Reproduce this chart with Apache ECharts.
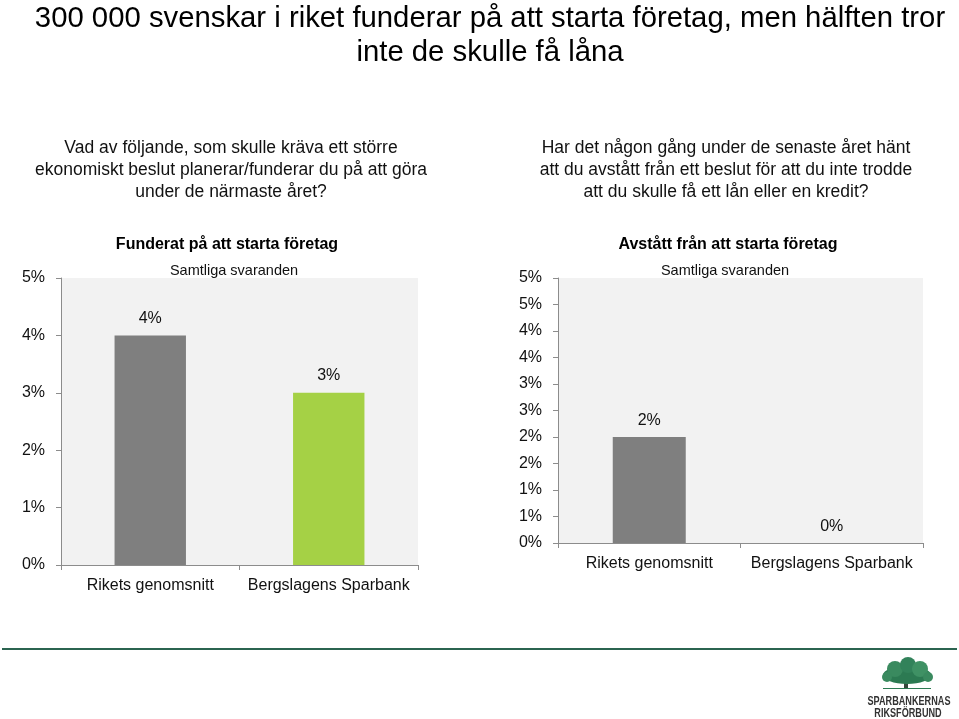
<!DOCTYPE html>
<html>
<head>
<meta charset="utf-8">
<script src="https://cdn.jsdelivr.net/npm/echarts@6/dist/echarts.min.js"></script>
<style>
html,body{margin:0;padding:0;background:#fff;}
#c{width:959px;height:719px;}
</style>
</head>
<body>
<div id="c"></div>
<script>
const categories = ['Rikets genomsnitt', 'Bergslagens Sparbank'];
const funderatValues = [4, 3];
const avstattValues = [2, 0];
const barColors = ['#7f7f7f', '#a5d145'];
const leftAxis = { min: 0, max: 5, interval: 1 };
const rightAxis = { min: 0, max: 5, interval: 0.5 };

const FONT = '"Liberation Sans", Arial, Helvetica, sans-serif';
const chart = echarts.init(document.getElementById('c'));

function pct(v) { return Math.round(v) + '%'; }

const axisLineStyle = { color: '#8c8c8c', width: 1 };
const xLabel = { fontSize: 16, color: '#111', margin: 13, fontFamily: FONT, interval: 0, hideOverlap: false };

chart.setOption({
  backgroundColor: '#ffffff',
  animation: false,
  textStyle: { fontFamily: FONT },
  title: [
    { text: '300 000 svenskar i riket funderar på att starta företag, men hälften tror\ninte de skulle få låna',
      left: 485, top: -3, textAlign: 'center',
      textStyle: { fontFamily: FONT, fontSize: 29.3, fontWeight: 'normal', color: '#000', lineHeight: 34, align: 'center' } },
    { text: 'Vad av följande, som skulle kräva ett större\nekonomiskt beslut planerar/funderar du på att göra\nunder de närmaste året?',
      left: 226, top: 132, textAlign: 'center',
      textStyle: { fontFamily: FONT, fontSize: 17.5, fontWeight: 'normal', color: '#111', lineHeight: 22, align: 'center' } },
    { text: 'Har det någon gång under de senaste året hänt\natt du avstått från ett beslut för att du inte trodde\natt du skulle få ett lån eller en kredit?',
      left: 721, top: 132, textAlign: 'center',
      textStyle: { fontFamily: FONT, fontSize: 17.5, fontWeight: 'normal', color: '#111', lineHeight: 22, align: 'center' } },
    { text: 'Funderat på att starta företag', left: 222, top: 232, textAlign: 'center',
      textStyle: { fontFamily: FONT, fontSize: 16, fontWeight: 'bold', color: '#000' } },
    { text: 'Samtliga svaranden', left: 229, top: 258, textAlign: 'center',
      textStyle: { fontFamily: FONT, fontSize: 14.5, fontWeight: 'normal', color: '#111' } },
    { text: 'Avstått från att starta företag', left: 723, top: 232, textAlign: 'center',
      textStyle: { fontFamily: FONT, fontSize: 16, fontWeight: 'bold', color: '#000' } },
    { text: 'Samtliga svaranden', left: 720, top: 258, textAlign: 'center',
      textStyle: { fontFamily: FONT, fontSize: 14.5, fontWeight: 'normal', color: '#111' } }
  ],
  grid: [
    { left: 61, right: 959 - 418, top: 278, bottom: 719 - 565, show: true, backgroundColor: '#f2f2f2', borderWidth: 0 },
    { left: 558, right: 959 - 923, top: 278, bottom: 719 - 543, show: true, backgroundColor: '#f2f2f2', borderWidth: 0 }
  ],
  xAxis: [
    { type: 'category', gridIndex: 0, data: categories,
      axisLine: { lineStyle: axisLineStyle }, axisTick: { show: true, length: 5, lineStyle: axisLineStyle },
      axisLabel: xLabel },
    { type: 'category', gridIndex: 1, data: categories,
      axisLine: { lineStyle: axisLineStyle }, axisTick: { show: true, length: 5, lineStyle: axisLineStyle },
      axisLabel: xLabel }
  ],
  yAxis: [
    { type: 'value', gridIndex: 0, min: leftAxis.min, max: leftAxis.max, interval: leftAxis.interval,
      axisLine: { show: true, lineStyle: axisLineStyle }, axisTick: { show: true, length: 5, lineStyle: axisLineStyle },
      splitLine: { show: false },
      axisLabel: { fontSize: 16, color: '#111', margin: 16, formatter: pct, fontFamily: FONT } },
    { type: 'value', gridIndex: 1, min: rightAxis.min, max: rightAxis.max, interval: rightAxis.interval,
      axisLine: { show: true, lineStyle: axisLineStyle }, axisTick: { show: true, length: 5, lineStyle: axisLineStyle },
      splitLine: { show: false },
      axisLabel: { fontSize: 16, color: '#111', margin: 16, formatter: pct, fontFamily: FONT } }
  ],
  series: [
    { type: 'bar', xAxisIndex: 0, yAxisIndex: 0, barWidth: '40%',
      data: funderatValues.map((v, i) => ({ value: v, itemStyle: { color: barColors[i] } })),
      label: { show: true, position: 'top', distance: 9, fontSize: 16, color: '#111', fontFamily: FONT,
        formatter: p => pct(p.value) } },
    { type: 'bar', xAxisIndex: 1, yAxisIndex: 1, barWidth: '40%',
      data: avstattValues.map((v, i) => ({ value: v, itemStyle: { color: barColors[0] } })),
      label: { show: true, position: 'top', distance: 8, fontSize: 16, color: '#111', fontFamily: FONT,
        formatter: p => pct(p.value) } }
  ],
  graphic: [
    { type: 'line', shape: { x1: 2, y1: 649, x2: 957, y2: 649 }, style: { stroke: '#2b6450', lineWidth: 2 } },
    { type: 'group', children: [
      { type: 'rect', shape: { x: 904, y: 676, width: 4, height: 12 }, style: { fill: '#34483b' } },
      { type: 'ellipse', shape: { cx: 907, cy: 675, rx: 24, ry: 9 }, style: { fill: '#2c7a52' } },
      { type: 'circle', shape: { cx: 895, cy: 669, r: 8 }, style: { fill: '#3a8a5f' } },
      { type: 'circle', shape: { cx: 908, cy: 665, r: 8 }, style: { fill: '#32825a' } },
      { type: 'circle', shape: { cx: 920, cy: 669, r: 8 }, style: { fill: '#3f9164' } },
      { type: 'circle', shape: { cx: 887, cy: 677, r: 5 }, style: { fill: '#3a8a5f' } },
      { type: 'circle', shape: { cx: 928, cy: 677, r: 5 }, style: { fill: '#3a8a5f' } },
      { type: 'rect', shape: { x: 883, y: 688, width: 48, height: 1 }, style: { fill: '#2c7a52' } },
      { type: 'text', x: 909, y: 702, scaleX: 0.76, style: { text: 'SPARBANKERNAS', fontSize: 12, fontWeight: 'bold', fill: '#333',
        fontFamily: FONT, align: 'center', verticalAlign: 'middle' } },
      { type: 'text', x: 908, y: 714, scaleX: 0.76, style: { text: 'RIKSFÖRBUND', fontSize: 12, fontWeight: 'bold', fill: '#333',
        fontFamily: FONT, align: 'center', verticalAlign: 'middle' } }
    ] }
  ]
});
</script>
</body>
</html>
